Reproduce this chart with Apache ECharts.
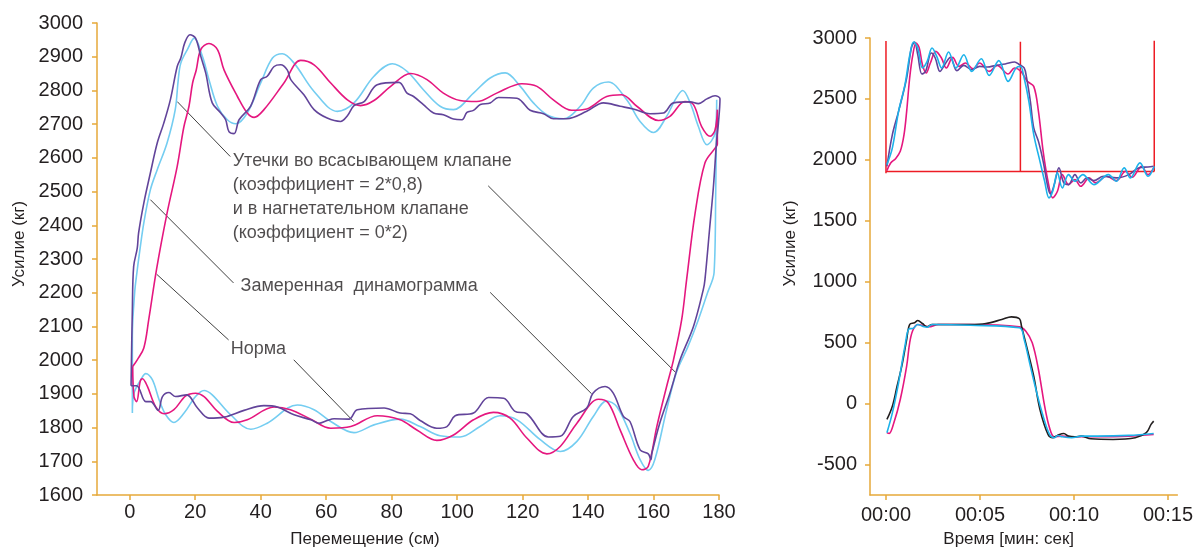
<!DOCTYPE html>
<html><head><meta charset="utf-8">
<script src="https://cdn.jsdelivr.net/npm/echarts@6/dist/echarts.min.js"></script>
<style>html,body{margin:0;padding:0;background:#fff}#c{width:1196px;height:554px}</style>
</head><body><div id="c"></div>
<script>
// ---------- Left chart: dynamograms (x = displacement cm, y = load kg) ----------
const measuredLoop = [[0.4,1924],[0.8,2150],[1.2,2278],[2.3,2332],[2.7,2377],[4.3,2466],[6.3,2555],[8.4,2644],[10.4,2703],[12.4,2772],[14.5,2871],[15.6,2896],[16.8,2941],[18.4,2965],[20.1,2955],[21.7,2901],[23.2,2852],[25.2,2763],[27.8,2733],[29.3,2713],[30.3,2678],[31.9,2672],[33.4,2713],[36.9,2753],[40,2832],[42,2842],[44.1,2871],[46.1,2876],[48.1,2861],[49.2,2832],[53.2,2787],[56.3,2743],[60.3,2718],[64.4,2708],[66.5,2725],[68.5,2755],[71.6,2767],[75.6,2817],[82.2,2824],[84.7,2792],[86.7,2782],[89.7,2758],[92.8,2733],[95.8,2728],[98.9,2715],[101.5,2713],[103,2735],[105,2741],[107.1,2758],[110.1,2763],[112.6,2779],[118.3,2777],[119.8,2767],[122.3,2741],[126.4,2731],[129.4,2716],[133.5,2716],[139.6,2738],[144.7,2763],[149.8,2753],[153.8,2745],[158.9,2731],[163,2733],[166.1,2763],[171.2,2766],[173.7,2761],[176.3,2775],[178.8,2784],[180.3,2775],[179.8,2700],[179.3,2654],[178.3,2515],[177.2,2397],[175.7,2238],[175.2,2209],[172.2,2100],[168.1,2001],[165,1902],[161.9,1813],[159.5,1724],[159.2,1705],[158.4,1722],[155.9,1734],[152.8,1818],[150.8,1833],[147.7,1902],[145.2,1922],[141.5,1902],[139.6,1858],[135.5,1833],[131.5,1774],[127.9,1772],[121.3,1841],[117.7,1848],[114.2,1887],[109.6,1889],[105,1843],[99.4,1835],[96.9,1803],[93.8,1798],[88.7,1821],[85.7,1841],[82.6,1843],[77.7,1858],[69.5,1853],[67,1825],[62.4,1826],[60.3,1821],[57.8,1813],[55.3,1823],[50.2,1838],[45.1,1861],[41,1865],[34.9,1851],[28.8,1831],[24.2,1828],[20.7,1858],[17.4,1897],[14,1892],[12,1904],[10,1892],[8.7,1851],[6.4,1877],[4.9,1877],[2.1,1924],[0.4,1924]];

const normLoop = [[0.8,1843],[0.8,2070],[1.5,2200],[2.3,2268],[2.7,2298],[4.3,2407],[6.3,2505],[8.4,2565],[11.4,2644],[13.9,2743],[14.8,2830],[15.6,2881],[17.6,2921],[19.7,2955],[22.2,2901],[24.2,2832],[26.8,2753],[29.8,2713],[32.4,2701],[35.9,2733],[40,2822],[43.6,2896],[46.6,2909],[50.2,2881],[56.3,2797],[63.4,2738],[68.5,2763],[74.6,2842],[80.2,2879],[84.8,2856],[89.7,2802],[94.8,2753],[98.9,2743],[105,2792],[110.1,2837],[114.7,2852],[119.3,2812],[123.3,2763],[127.4,2728],[132.5,2716],[137.6,2753],[141.6,2807],[146.2,2825],[151.8,2772],[155.9,2708],[160,2675],[164,2723],[166.6,2772],[168.9,2800],[171.2,2763],[173.7,2693],[176.3,2639],[178.8,2674],[179.3,2772],[179.0,2500],[178.5,2260],[176.5,2200],[173.7,2120],[170.5,2040],[167.1,1966],[164,1853],[160.4,1705],[158.4,1673],[155.9,1705],[152.8,1783],[148.8,1862],[145.7,1879],[141.6,1833],[136.6,1759],[131.5,1729],[125.4,1764],[118.3,1823],[113.1,1835],[107,1803],[100.9,1772],[94.8,1776],[88.7,1803],[82.6,1825],[74.6,1808],[68.5,1785],[61.4,1818],[56.3,1853],[51.2,1867],[42,1813],[37,1795],[30.8,1838],[25.2,1897],[22.7,1910],[20.1,1892],[16.6,1843],[13.5,1815],[11,1838],[9,1882],[6.9,1942],[4.9,1960],[3.4,1942],[1.3,1902],[0.8,1843]];

const leakLoop = [[0.9,1981],[2.3,2001],[4.3,2036],[5.8,2120],[8.2,2270],[11.4,2436],[14.5,2575],[16.5,2690],[18.1,2753],[19.2,2822],[20.3,2860],[21.7,2921],[24.2,2939],[26.8,2921],[28.8,2861],[32.9,2782],[35.9,2733],[38,2720],[41,2743],[47.1,2822],[52.2,2889],[56.3,2876],[61.4,2822],[66.5,2772],[70.5,2755],[74.6,2770],[79.7,2812],[85.8,2850],[90.8,2832],[95.8,2792],[100.9,2770],[106,2767],[112.1,2792],[119.8,2820],[124.4,2812],[129.4,2772],[135,2741],[139.6,2745],[145.7,2782],[150.3,2787],[154.9,2753],[161.5,2711],[165,2723],[169.6,2767],[172.2,2758],[174.7,2693],[177.3,2664],[178.8,2683],[179.5,2743],[179.5,2640],[178.8,2629],[175.7,2585],[172.7,2436],[170.1,2238],[168.6,2120],[166.1,2001],[164,1922],[161,1803],[158.4,1685],[156.4,1675],[153.8,1705],[149.8,1793],[146.2,1873],[143.2,1884],[136.6,1813],[131.5,1744],[127.4,1722],[121.3,1769],[116.2,1828],[111.1,1845],[105,1823],[98.9,1778],[93.8,1762],[87.7,1793],[82.6,1823],[75.6,1835],[67.5,1803],[61.4,1798],[55.3,1825],[49.1,1853],[44.1,1861],[35.9,1823],[31.9,1815],[26.8,1848],[22.7,1892],[20.1,1902],[17.1,1894],[13.5,1853],[10.5,1841],[7.9,1862],[5.4,1922],[3.9,1945],[3.2,1937],[2.1,1877],[1.3,1892],[0.9,1981]];

const xTicksLeft = [0,20,40,60,80,100,120,140,160,180];

// annotations (data coordinates of the left chart)
const annotationTexts = [
  'Утечки во всасывающем клапане\n(коэффициент = 2*0,8)\nи в нагнетательном клапане\n(коэффициент = 0*2)',
  'Замеренная  динамограмма',
  'Норма'
];
const annotationPos = [[31.6,2624],[34.0,2254],[31.0,2066]];
const leaderLines = [
  [[14.5,2767],[30.7,2604]],
  [[109.5,2517],[166.6,1965]],
  [[6.3,2476],[31.7,2229]],
  [[110.1,2201],[141.1,1900]],
  [[8.2,2255],[30.2,2060]],
  [[50.1,2001],[68.4,1818]]
];

// ---------- Right chart: load vs time (seconds) ----------
const upperMeasured = [[0.05,1947],[0.34,2207],[0.67,2398],[1.1,2672],[1.35,2918],[1.52,2967],[1.69,2863],[1.91,2705],[2.11,2726],[2.41,2877],[2.62,2836],[2.87,2726],[3.12,2781],[3.43,2841],[3.77,2732],[4.14,2775],[4.56,2740],[4.98,2767],[5.4,2762],[5.83,2775],[6.34,2787],[6.84,2803],[7.1,2781],[7.35,2754],[7.48,2672],[7.68,2480],[7.86,2262],[8.11,2152],[8.36,1988],[8.62,1770],[8.75,1721],[8.95,1797],[9.2,1934],[9.46,1811],[9.71,1797],[10.05,1879],[10.36,1811],[10.69,1852],[11.06,1830],[11.57,1865],[12.25,1852],[12.92,1879],[13.43,1934],[13.94,1942],[14.24,1947]];
const upperLeak = [[0.05,1912],[0.25,1975],[0.51,2010],[0.76,2070],[0.96,2207],[1.1,2398],[1.26,2672],[1.43,2863],[1.6,2959],[1.77,2918],[1.94,2781],[2.14,2713],[2.36,2795],[2.65,2890],[2.95,2836],[3.21,2754],[3.55,2841],[3.88,2767],[4.22,2795],[4.64,2748],[4.98,2795],[5.49,2726],[5.91,2775],[6.5,2705],[6.84,2754],[7.18,2726],[7.52,2644],[7.86,2603],[8.11,2398],[8.36,2070],[8.62,1824],[8.87,1688],[9.12,1742],[9.38,1879],[9.71,1797],[10.05,1838],[10.36,1783],[10.81,1852],[11.15,1811],[11.74,1865],[12.25,1830],[12.75,1906],[13.09,1857],[13.6,1947],[13.94,1879],[14.24,1934]];
const upperNorm = [[0.05,1961],[0.34,2098],[0.67,2398],[1.01,2617],[1.27,2863],[1.47,2967],[1.69,2918],[1.94,2754],[2.19,2808],[2.45,2918],[2.7,2849],[2.96,2754],[3.33,2885],[3.72,2754],[4.14,2863],[4.56,2726],[5.07,2830],[5.49,2693],[6.0,2814],[6.5,2644],[6.92,2754],[7.15,2767],[7.35,2672],[7.6,2480],[7.86,2207],[8.19,1988],[8.44,1824],[8.67,1688],[8.87,1742],[9.12,1893],[9.38,1770],[9.71,1879],[10.05,1824],[10.47,1879],[11.06,1797],[11.83,1879],[12.25,1824],[12.67,1934],[13.0,1852],[13.51,1975],[13.94,1865],[14.27,1947]];
const lowerMeasured = [[0.05,-130],[0.34,-21],[0.59,143],[0.84,307],[1.1,526],[1.26,649],[1.52,663],[1.69,682],[1.94,657],[2.19,630],[2.45,649],[3.12,649],[4.48,649],[5.32,657],[6.16,690],[6.67,712],[7.1,696],[7.21,635],[7.52,444],[7.86,225],[8.19,-48],[8.62,-253],[8.87,-280],[9.12,-261],[9.46,-245],[9.71,-267],[10.05,-272],[10.39,-267],[10.9,-289],[12.08,-294],[13.26,-280],[13.85,-239],[14.1,-171],[14.24,-144]];
const lowerLeak = [[0.05,-239],[0.17,-245],[0.42,-157],[0.76,34],[1.1,307],[1.26,499],[1.43,602],[1.69,649],[1.94,641],[2.28,630],[2.79,649],[4.48,649],[7.1,630],[7.44,594],[7.78,499],[8.11,280],[8.44,-21],[8.7,-198],[8.95,-272],[9.38,-267],[9.88,-272],[11.23,-272],[12.92,-267],[14.24,-253]];
const lowerNorm = [[0.05,-239],[0.34,-76],[0.67,171],[1.01,471],[1.23,614],[1.43,616],[1.69,649],[1.94,635],[2.19,627],[2.45,649],[4.48,643],[7.1,622],[7.35,526],[7.68,307],[8.02,89],[8.36,-103],[8.7,-253],[8.95,-280],[9.15,-262],[9.38,-272],[9.88,-280],[10.39,-267],[11.23,-267],[12.92,-261],[14.24,-245]];
const redGuides = [
  [[0,2975],[0,1890]],
  [[7.15,2970],[7.15,1905]],
  [[14.27,2978],[14.27,1905]],
  [[0,1905],[14.27,1905]]
];
const timeTickValues = [0,5,10,15];
const timeTickLabels = ['00:00','00:05','00:10','00:15'];
const yTicksRight = [-500,0,500,1000,1500,2000,2500,3000];

// ---------- styling ----------
const AX = '#e6a93a';
const TXT = '#231f20';
const FONT = 'Liberation Sans, Arial, sans-serif';
const C_CYAN_L = '#74cdf1', C_PURPLE = '#62449a', C_PINK = '#e5177f', C_CYAN_R = '#1cb2ea', C_BLACK = '#231f20', C_RED = '#ed1c24';

function curve(data, color, xi, w) {
  return {type:'line', xAxisIndex:xi, yAxisIndex:xi, data:data, showSymbol:false, symbol:'none',
    smooth:0.35, lineStyle:{color:color, width:w||1.6}, itemStyle:{color:color}, silent:true, animation:false, z:3};
}
function seg(data, color, xi, w, z) {
  return {type:'line', xAxisIndex:xi, yAxisIndex:xi, data:data, showSymbol:false, symbol:'none',
    lineStyle:{color:color, width:w}, silent:true, animation:false, z:z};
}

const series = [];
leaderLines.forEach(l => series.push(seg(l, '#2a2a2a', 0, 0.9, 2)));
series.push(curve(normLoop, C_CYAN_L, 0));
series.push(curve(leakLoop, C_PINK, 0));
series.push(curve(measuredLoop, C_PURPLE, 0));
series.push({
  type:'scatter', xAxisIndex:0, yAxisIndex:0, symbolSize:1, itemStyle:{color:'rgba(0,0,0,0)'},
  silent:true, animation:false, z:5,
  data: annotationPos.map((p,i)=>({value:p, name:annotationTexts[i]})),
  label:{show:true, position:[0,0], align:'left', verticalAlign:'top', formatter:p=>p.name,
    fontSize:18, lineHeight:24, color:TXT, fontFamily:FONT}
});
redGuides.forEach(g => series.push(seg(g, C_RED, 1, 1.5, 2)));
series.push(curve(upperLeak, C_PINK, 1));
series.push(curve(upperMeasured, C_PURPLE, 1));
series.push(curve(upperNorm, C_CYAN_R, 1));
series.push(curve(lowerLeak, C_PINK, 1));
series.push(curve(lowerMeasured, C_BLACK, 1));
series.push(curve(lowerNorm, C_CYAN_R, 1));

const axLine = {show:true, onZero:false, lineStyle:{color:AX, width:1.5}};
const axTick = {show:true, length:5, lineStyle:{color:AX, width:1.5}};
const lbl = {fontSize:20, color:TXT, fontFamily:FONT};
const plain = v => String(v);

const option = {
  backgroundColor:'#fff',
  animation:false,
  grid:[
    {left:97, top:23, width:622, height:472},
    {left:870, top:38, width:323, height:457}
  ],
  xAxis:[
    {type:'value', gridIndex:0, min:-10, max:180,
     axisLine:axLine, axisTick:Object.assign({customValues:xTicksLeft}, axTick),
     axisLabel:Object.assign({customValues:xTicksLeft, margin:7, formatter:plain}, lbl),
     splitLine:{show:false},
     name:'Перемещение (см)', nameLocation:'middle', nameGap:36,
     nameTextStyle:{fontSize:17, color:TXT, fontFamily:FONT, padding:[0,86,0,0]}},
    {type:'value', gridIndex:1, min:-0.85, max:15.5,
     axisLine:axLine, axisTick:Object.assign({customValues:timeTickValues}, axTick),
     axisLabel:Object.assign({customValues:timeTickValues, margin:10,
       formatter:v=>timeTickLabels[timeTickValues.indexOf(v)] || ''}, lbl),
     splitLine:{show:false},
     name:'Время [мин: сек]', nameLocation:'middle', nameGap:36,
     nameTextStyle:{fontSize:17, color:TXT, fontFamily:FONT, padding:[0,30,0,0]}}
  ],
  yAxis:[
    {type:'value', gridIndex:0, min:1600, max:3000, interval:100,
     axisLine:axLine, axisTick:axTick, axisLabel:Object.assign({margin:14, formatter:plain}, lbl),
     splitLine:{show:false},
     name:'Усилие (кг)', nameLocation:'middle', nameGap:66,
     nameTextStyle:{fontSize:17, color:TXT, fontFamily:FONT, padding:[0,0,0,30]}},
    {type:'value', gridIndex:1, min:-750, max:3000,
     axisLine:axLine, axisTick:Object.assign({customValues:yTicksRight}, axTick),
     axisLabel:Object.assign({customValues:yTicksRight, margin:13, formatter:plain}, lbl),
     splitLine:{show:false},
     name:'Усилие (кг)', nameLocation:'middle', nameGap:71,
     nameTextStyle:{fontSize:17, color:TXT, fontFamily:FONT, padding:[0,0,0,46]}}
  ],
  series:series
};
const chart = echarts.init(document.getElementById('c'), null, {renderer:'canvas'});
chart.setOption(option);
</script></body></html>
